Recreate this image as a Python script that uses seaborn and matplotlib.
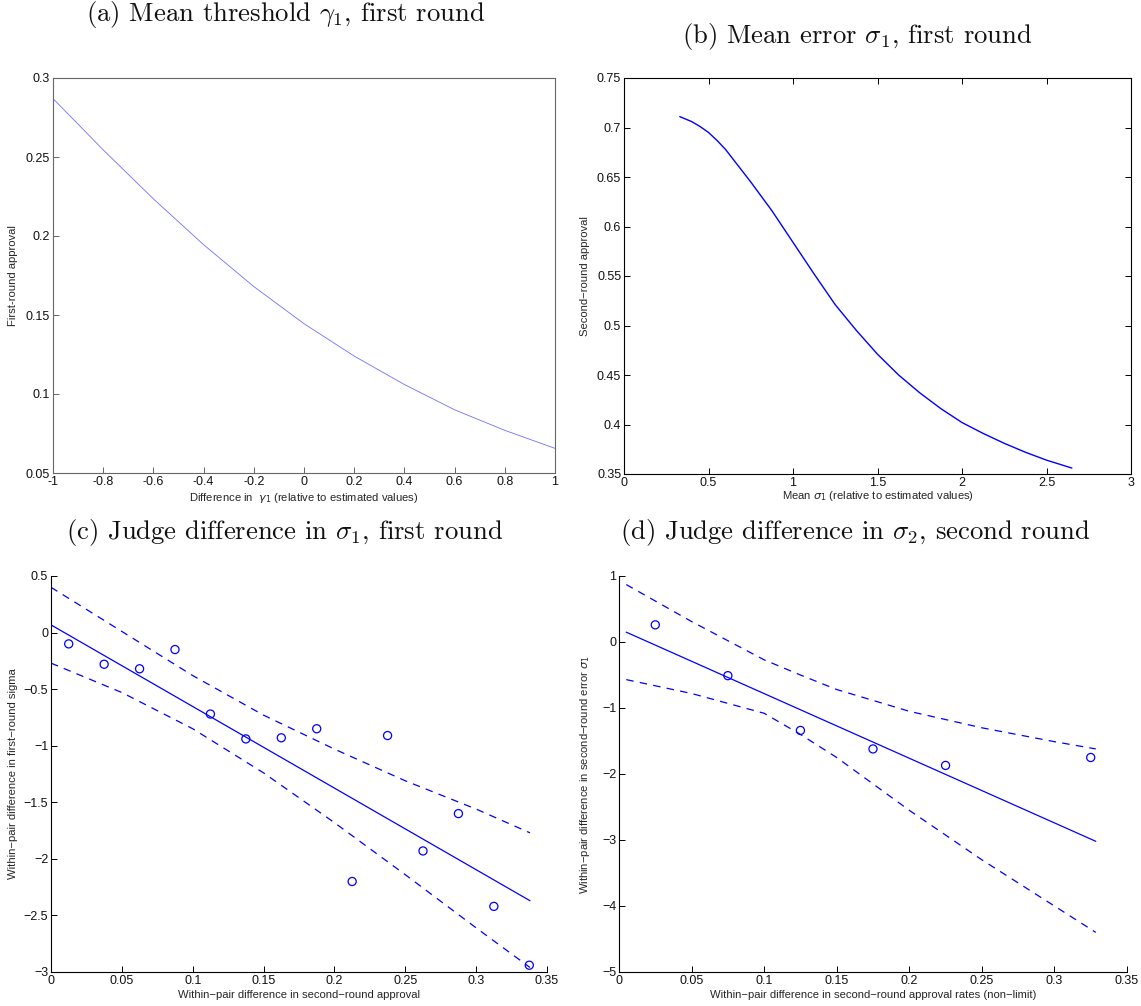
import numpy as np
import pandas as pd
import matplotlib
matplotlib.use("Agg")
import matplotlib.pyplot as plt
import seaborn as sns
from matplotlib.ticker import FixedLocator, FuncFormatter

# (a) first-round approval as the mean threshold gamma_1 shifts
gamma_shift = [-1.0, -0.8, -0.6, -0.4, -0.2, 0.0, 0.2, 0.4, 0.6, 0.8, 1.0]
first_round_approval = [0.287, 0.2545, 0.2235, 0.1945, 0.168, 0.1445,
                        0.124, 0.106, 0.090, 0.077, 0.0656]

# (b) second-round approval against the mean error sigma_1
sigma_mean = [0.33, 0.4, 0.45, 0.5, 0.55, 0.6, 0.75, 0.875, 1.0, 1.125, 1.25,
              1.375, 1.5, 1.625, 1.75, 1.875, 2.0, 2.125, 2.25, 2.375, 2.5,
              2.65]
second_round_approval = [0.711, 0.706, 0.701, 0.695, 0.687, 0.678, 0.645,
                         0.616, 0.584, 0.552, 0.521, 0.495, 0.471, 0.450,
                         0.432, 0.416, 0.402, 0.391, 0.381, 0.372, 0.364,
                         0.356]

# (c) judge pairs: approval gap vs first-round sigma gap
c_approval_gap = [0.0125, 0.0375, 0.0625, 0.0875, 0.1125, 0.1375, 0.1625,
                  0.1875, 0.2125, 0.2375, 0.2625, 0.2875, 0.3125, 0.3375]
c_sigma_gap = [-0.10, -0.28, -0.32, -0.15, -0.72, -0.94, -0.93,
               -0.85, -2.20, -0.91, -1.93, -1.60, -2.42, -2.94]
c_fit_x = [0.0, 0.338]
c_fit_y = [0.068, -2.37]
c_band_x = [0.0, 0.05, 0.10, 0.15, 0.20, 0.25, 0.30, 0.338]
c_band_hi = [0.40, 0.01, -0.38, -0.73, -1.03, -1.31, -1.56, -1.77]
c_band_lo = [-0.27, -0.53, -0.85, -1.24, -1.68, -2.14, -2.61, -2.96]

# (d) judge pairs: non-limit approval gap vs second-round error gap
d_approval_gap = [0.025, 0.075, 0.125, 0.175, 0.225, 0.325]
d_error_gap = [0.26, -0.51, -1.34, -1.62, -1.87, -1.75]
d_fit_x = [0.005, 0.3285]
d_fit_y = [0.149, -3.02]
d_band_x = [0.005, 0.05, 0.10, 0.125, 0.15, 0.20, 0.25, 0.30, 0.3285]
d_band_hi = [0.87, 0.31, -0.27, -0.50, -0.72, -1.05, -1.30, -1.51, -1.62]
d_band_lo = [-0.57, -0.78, -1.08, -1.40, -1.75, -2.55, -3.30, -4.00, -4.40]

sns.set_style("ticks", {"xtick.direction": "in", "ytick.direction": "in"})
plt.rcParams["font.family"] = ["Liberation Sans", "DejaVu Sans"]
plt.rcParams["mathtext.fontset"] = "cm"
plt.rcParams["axes.unicode_minus"] = True

W, H = 1141, 1006
fig = plt.figure(figsize=(W / 100, H / 100), dpi=100)


def box(l, t, r, b):
    return [l / W, 1 - b / H, (r - l) / W, (b - t) / H]


BLUE = "#0000ff"
TICK_FS = 9
LAB_FS = 8.1


def style_axes(ax, color, full_box, ticks_all):
    for side in ["left", "bottom", "top", "right"]:
        ax.spines[side].set_color(color)
        ax.spines[side].set_linewidth(0.8)
        ax.spines[side].set_visible(full_box or side in ("left", "bottom"))
    ax.tick_params(direction="in", length=4, width=0.7, color=color,
                   labelsize=TICK_FS, labelcolor="#111111",
                   top=ticks_all, right=ticks_all, pad=2)
    ax.set_facecolor("white")


def _num(v):
    v = round(v, 4) + 0.0
    if v == 0:
        v = 0.0
    return "%g" % v


def fmt_plain(v, pos):
    return _num(v)


def fmt_minus(v, pos):
    return _num(v).replace("-", "\u2212")


# ---------- (a) ----------
ax_a = fig.add_axes(box(53, 78, 555, 473))
sns.lineplot(x=gamma_shift, y=first_round_approval, ax=ax_a,
             color="#7070ff", linewidth=0.6, estimator=None, sort=False)
ax_a.set_xlim(-1, 1)
ax_a.set_ylim(0.05, 0.3)
ax_a.xaxis.set_major_locator(FixedLocator(np.round(np.arange(-1, 1.01, 0.2), 2)))
ax_a.yaxis.set_major_locator(FixedLocator(np.round(np.arange(0.05, 0.301, 0.05), 2)))
ax_a.xaxis.set_major_formatter(FuncFormatter(fmt_plain))
ax_a.yaxis.set_major_formatter(FuncFormatter(fmt_plain))
style_axes(ax_a, "#666666", True, False)
ax_a.set_xlabel(r"Difference in  $\gamma_1$ (relative to estimated values)",
                fontsize=LAB_FS, labelpad=2, math_fontfamily="dejavusans")
ax_a.set_ylabel("First-round approval", fontsize=LAB_FS, labelpad=6)

# ---------- (b) ----------
ax_b = fig.add_axes(box(624, 78, 1131, 474))
sns.lineplot(x=sigma_mean, y=second_round_approval, ax=ax_b,
             color=BLUE, linewidth=1.0, estimator=None, sort=False)
ax_b.set_xlim(0, 3)
ax_b.set_ylim(0.35, 0.75)
ax_b.xaxis.set_major_locator(FixedLocator(np.round(np.arange(0, 3.01, 0.5), 2)))
ax_b.yaxis.set_major_locator(FixedLocator(np.round(np.arange(0.35, 0.751, 0.05), 2)))
ax_b.xaxis.set_major_formatter(FuncFormatter(fmt_plain))
ax_b.yaxis.set_major_formatter(FuncFormatter(fmt_plain))
style_axes(ax_b, "#000000", True, True)
ax_b.set_xlabel(r"Mean $\sigma_1$ (relative to estimated values)",
                fontsize=LAB_FS, labelpad=0, math_fontfamily="dejavusans")
ax_b.set_ylabel("Second\u2212round approval", fontsize=LAB_FS, labelpad=5)


def scatter_panel(ax, px, py, fx, fy, bx, bhi, blo):
    sns.lineplot(x=bx, y=bhi, ax=ax, color=BLUE, linewidth=0.9,
                 linestyle=(0, (6, 5)), estimator=None, sort=False)
    sns.lineplot(x=bx, y=blo, ax=ax, color=BLUE, linewidth=0.9,
                 linestyle=(0, (6, 5)), estimator=None, sort=False)
    sns.lineplot(x=fx, y=fy, ax=ax, color=BLUE, linewidth=0.9,
                 estimator=None, sort=False)
    sns.scatterplot(x=px, y=py, ax=ax, marker="o", s=34,
                    facecolors="none", edgecolors=BLUE, linewidths=0.9,
                    zorder=5)
    ax.set_xlim(0, 0.35)
    ax.xaxis.set_major_locator(FixedLocator(np.round(np.arange(0, 0.351, 0.05), 2)))
    ax.xaxis.set_major_formatter(FuncFormatter(fmt_minus))
    ax.yaxis.set_major_formatter(FuncFormatter(fmt_minus))
    style_axes(ax, "#000000", False, False)


# ---------- (c) ----------
ax_c = fig.add_axes(box(51, 576, 547, 972))
scatter_panel(ax_c, c_approval_gap, c_sigma_gap, c_fit_x, c_fit_y,
              c_band_x, c_band_hi, c_band_lo)
ax_c.set_ylim(-3, 0.5)
ax_c.yaxis.set_major_locator(FixedLocator(np.round(np.arange(-3, 0.51, 0.5), 2)))
ax_c.set_xlabel("Within\u2212pair difference in second\u2212round approval",
                fontsize=LAB_FS, labelpad=2)
ax_c.set_ylabel("Within\u2212pair difference in first\u2212round sigma",
                fontsize=LAB_FS, labelpad=4)

# ---------- (d) ----------
ax_d = fig.add_axes(box(619, 576, 1127, 972))
scatter_panel(ax_d, d_approval_gap, d_error_gap, d_fit_x, d_fit_y,
              d_band_x, d_band_hi, d_band_lo)
ax_d.set_ylim(-5, 1)
ax_d.yaxis.set_major_locator(FixedLocator(np.arange(-5, 1.01, 1)))
ax_d.set_xlabel("Within\u2212pair difference in second\u2212round approval rates (non\u2212limit)",
                fontsize=LAB_FS, labelpad=2)
ax_d.set_ylabel("Within\u2212pair difference in second\u2212round error $\\sigma_1$",
                fontsize=LAB_FS, labelpad=7, math_fontfamily="dejavusans")

# ---------- panel captions ----------
cap_kw = dict(family="cmr10", fontsize=19.2, ha="center", va="center",
              color="#111111")
fig.text(286 / W, 1 - 14 / H, r"(a) Mean threshold $\gamma_1$, first round", **cap_kw)
fig.text(857 / W, 1 - 36 / H, r"(b) Mean error $\sigma_1$, first round", **cap_kw)
fig.text(285 / W, 1 - 532 / H, r"(c) Judge difference in $\sigma_1$, first round", **cap_kw)
fig.text(855 / W, 1 - 532 / H, r"(d) Judge difference in $\sigma_2$, second round", **cap_kw)

fig.savefig("out.png", dpi=100, facecolor="white")
